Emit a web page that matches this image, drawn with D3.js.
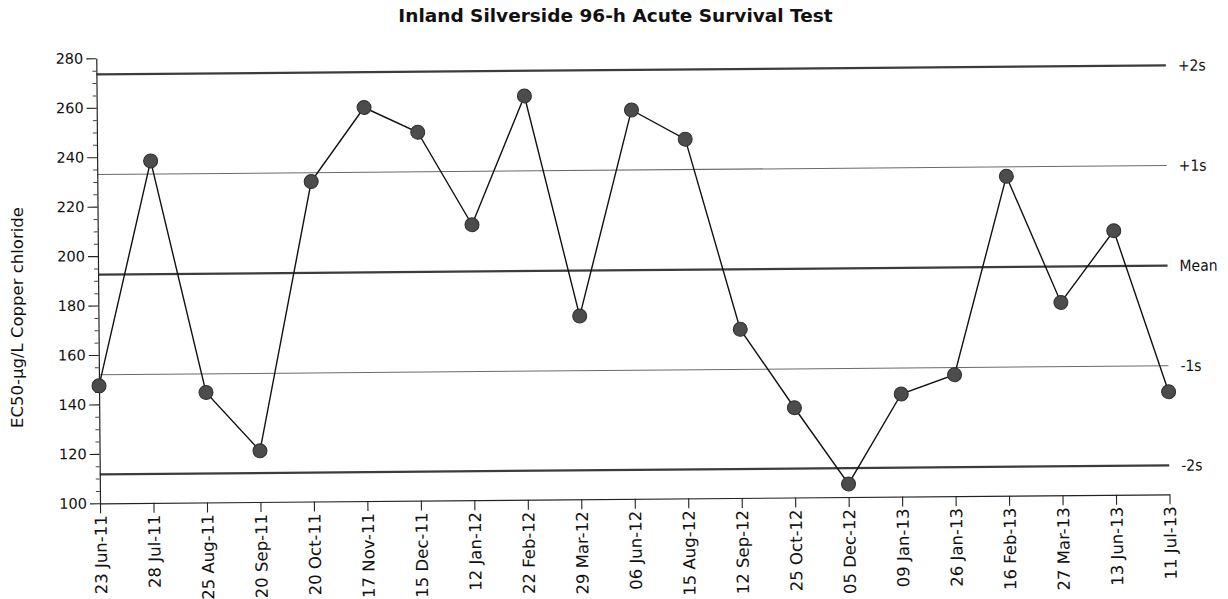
<!DOCTYPE html>
<html>
<head>
<meta charset="utf-8">
<script src="https://cdn.jsdelivr.net/npm/d3@7"></script>
<style>
  body { margin: 0; background: #fff; }
  svg { display: block; }
</style>
</head>
<body>
<svg id="chart" width="1228" height="599"></svg>
<script>
// Test dates (one per acute test)
const testDates = [
  "23 Jun-11", "28 Jul-11", "25 Aug-11", "20 Sep-11", "20 Oct-11", "17 Nov-11",
  "15 Dec-11", "12 Jan-12", "22 Feb-12", "29 Mar-12", "06 Jun-12", "15 Aug-12",
  "12 Sep-12", "25 Oct-12", "05 Dec-12", "09 Jan-13", "26 Jan-13", "16 Feb-13",
  "27 Mar-13", "13 Jun-13", "11 Jul-13"
];

// EC50 results, µg/L copper chloride
const ec50Values = [
  147.5, 238.3, 144.5, 120.7, 229.4, 259.2,
  249.0, 211.4, 263.3, 174.1, 257.3, 245.3,
  168.2, 136.3, 105.3, 141.5, 149.1, 229.2,
  178.0, 206.8, 141.5
];

// Control-chart limits
const limitLabels = ["+2s", "+1s", "Mean", "-1s", "-2s"];
const limitValues = [273.5, 233.0, 192.5, 152.0, 111.7];
const limitHeavy  = [true, false, true, false, true];

// Y axis ticks
const yMajorTicks = [100, 120, 140, 160, 180, 200, 220, 240, 260, 280];
const yMinorTicks = [105, 110, 115, 125, 130, 135, 145, 150, 155, 165, 170, 175,
                     185, 190, 195, 205, 210, 215, 225, 230, 235, 245, 250, 255,
                     265, 270, 275];

const svg = d3.select("#chart");
const FONT = "'DejaVu Sans', Verdana, sans-serif";

const plotLeft = 100, plotRight = 1169.5, plotTop = 58.3, plotBottom = 503.3;

const x = d3.scalePoint().domain(testDates).range([plotLeft, plotRight]).padding(0);
const y = d3.scaleLinear().domain([100, 280]).range([plotBottom, plotTop]);

// Title
svg.append("text")
  .attr("x", 615.5).attr("y", 22)
  .attr("text-anchor", "middle")
  .style("font-family", FONT)
  .style("font-weight", "bold")
  .style("font-size", "18.5px")
  .attr("fill", "#111")
  .text("Inland Silverside 96-h Acute Survival Test");

// Y axis title
svg.append("text")
  .attr("transform", "translate(22.7,317.5) rotate(-90)")
  .attr("text-anchor", "middle")
  .style("font-family", FONT)
  .style("font-size", "16.5px")
  .attr("fill", "#111")
  .text("EC50-µg/L Copper chloride");

// Plot area, slightly tilted like the printed sheet
const plot = svg.append("g")
  .attr("transform", `rotate(-0.48, ${plotLeft}, ${plotBottom})`);

// Control limit lines
const limits = limitValues.map((v, i) => ({ v, label: limitLabels[i], heavy: limitHeavy[i] }));

plot.append("g").selectAll("line")
  .data(limits)
  .join("line")
  .attr("x1", plotLeft).attr("x2", plotRight)
  .attr("y1", d => y(d.v)).attr("y2", d => y(d.v))
  .attr("stroke", d => d.heavy ? "#3c3c3c" : "#6a6a6a")
  .attr("stroke-width", d => d.heavy ? 2.2 : 1.1);

plot.append("g").selectAll("text")
  .data(limits)
  .join("text")
  .attr("x", plotRight + 12)
  .attr("y", d => y(d.v))
  .attr("dy", "0.35em")
  .style("font-family", FONT)
  .style("font-stretch", "condensed")
  .style("font-size", "15.5px")
  .attr("fill", "#111")
  .text(d => d.label);

// Y axis (major + minor ticks)
const yAxis = plot.append("g")
  .attr("transform", `translate(${plotLeft},0)`)
  .call(d3.axisLeft(y).tickValues(yMajorTicks).tickSize(10).tickSizeOuter(0).tickPadding(3));
yAxis.select(".domain").attr("stroke", "#222").attr("stroke-width", 1.2);
yAxis.selectAll(".tick line").attr("stroke", "#222").attr("stroke-width", 1.1);
yAxis.selectAll(".tick text")
  .style("font-family", FONT).style("font-size", "14.5px").attr("fill", "#111");

const yMinor = plot.append("g")
  .attr("transform", `translate(${plotLeft},0)`)
  .call(d3.axisLeft(y).tickValues(yMinorTicks).tickSize(4).tickSizeOuter(0).tickFormat(""));
yMinor.select(".domain").remove();
yMinor.selectAll(".tick line").attr("stroke", "#444");

// X axis with vertical date labels
const xAxis = plot.append("g")
  .attr("transform", `translate(0,${plotBottom})`)
  .call(d3.axisBottom(x).tickSize(10).tickSizeOuter(0));
xAxis.select(".domain").attr("stroke", "#222").attr("stroke-width", 1.2);
xAxis.selectAll(".tick line").attr("stroke", "#222").attr("stroke-width", 1.1);
xAxis.selectAll(".tick text")
  .attr("transform", "rotate(-90)")
  .attr("x", -12).attr("y", 0).attr("dy", "0.36em")
  .style("text-anchor", "end")
  .style("font-family", FONT).style("font-size", "16.5px").attr("fill", "#111");

// Data series
const series = testDates.map((d, i) => ({ date: d, value: ec50Values[i] }));

plot.append("path")
  .datum(series)
  .attr("fill", "none")
  .attr("stroke", "#111")
  .attr("stroke-width", 1.4)
  .attr("d", d3.line().x(d => x(d.date)).y(d => y(d.value)));

plot.append("g").selectAll("circle")
  .data(series)
  .join("circle")
  .attr("cx", d => x(d.date))
  .attr("cy", d => y(d.value))
  .attr("r", 7)
  .attr("fill", "#4c4c4c")
  .attr("stroke", "#2e2e2e")
  .attr("stroke-width", 1);
</script>
</body>
</html>
